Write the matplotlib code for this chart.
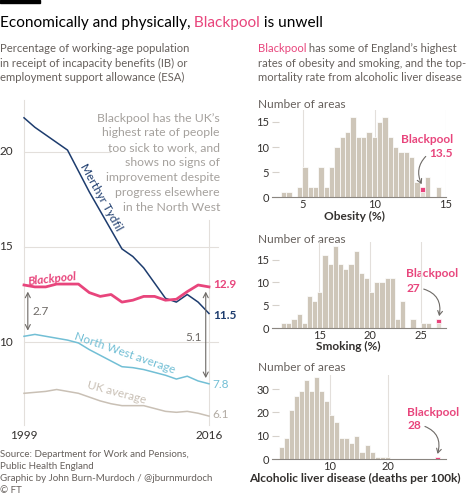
import numpy as np
import matplotlib
matplotlib.use("Agg")
import matplotlib.pyplot as plt
from matplotlib.patches import Rectangle

plt.rcParams['font.family'] = ['Lato', 'DejaVu Sans']

# ---- data: incapacity benefit / ESA share of working-age population (%)
years = np.arange(1999, 2017)
merthyr = [21.8, 21.3, 20.9, 20.5, 20.1, 19.0, 17.9, 16.9, 15.9, 14.9,
           14.5, 13.9, 13.1, 12.3, 12.1, 12.5, 12.1, 11.5]
blackpool = [13.0, 12.9, 12.9, 13.05, 13.05, 13.05, 12.6, 12.4, 12.5, 12.1,
             12.2, 12.4, 12.4, 12.2, 12.25, 12.65, 13.0, 12.9]
north_west = [10.3, 10.4, 10.3, 10.2, 10.1, 9.95, 9.6, 9.3, 9.0, 8.7,
              8.65, 8.55, 8.4, 8.25, 8.05, 8.2, 7.95, 7.8]
uk_avg = [7.3, 7.35, 7.4, 7.5, 7.4, 7.3, 7.1, 6.9, 6.75, 6.65,
          6.65, 6.65, 6.5, 6.35, 6.3, 6.35, 6.25, 6.1]

# ---- data: histograms of local areas
obesity_counts = [1, 1, 0, 2, 6, 2, 2, 6, 2, 6, 10, 12, 13, 16, 12, 12, 13, 12,
                  15, 16, 12, 10, 9, 9, 8, 3, 2, 4, 0, 2]
obesity_bins = (3.45, 0.373)  # first edge, bin width
smoking_counts = [1, 1, 2, 3, 1, 7, 6, 8, 16, 14, 18, 14, 13, 14, 17, 12, 11,
                  8, 10, 10, 11, 11, 2, 6, 0, 2, 0, 1, 1, 0, 2]
smoking_bins = (11.2, 0.512)
alcohol_counts = [5, 9, 21, 27, 29, 34, 29, 35, 29, 25, 19, 16, 9, 9, 7, 10, 3,
                  6, 3, 1, 1, 1, 0, 0, 0, 0, 0, 0, 0, 0, 0, 1]
alcohol_bins = (1.3, 0.86)
bp_obesity, bp_smoking, bp_alcohol = 13.5, 27, 28

PINK = '#e8457c'
NAVY = '#1d3c6e'
LBLUE = '#72bfd5'
UKGREY = '#c9c0b5'
BEIGE = '#cec6b9'
TXT = '#66605c'
DARK = '#33302e'
GRID = '#e3dfdb'
ANNO = '#a5a19d'

W, H = 474, 494
fig = plt.figure(figsize=(W / 100, H / 100), dpi=100, facecolor='white')


def px_axes(x0, y0, x1, y1):
    return fig.add_axes([x0 / W, 1 - y1 / H, (x1 - x0) / W, (y1 - y0) / H])


# overlay in pixel coordinates for free text
ov = fig.add_axes([0, 0, 1, 1])
ov.set_xlim(0, W)
ov.set_ylim(H, 0)
ov.axis('off')

ov.add_patch(Rectangle((0, 0), 40, 3, color='black'))


def colored_line(x, y, parts, size, weight='normal'):
    t = ov.text(x, y, parts[0][0], color=parts[0][1], fontsize=size,
                fontweight=weight, va='baseline', ha='left')
    for s, c in parts[1:]:
        t = ov.annotate(s, xy=(1, 0), xycoords=t, va='bottom', ha='left',
                        color=c, fontsize=size, fontweight=weight)


colored_line(0, 27, [('Economically and physically,', 'black'),
                     (' Blackpool', PINK), (' is unwell', 'black')], 11.1)

left_sub = ['Percentage of working-age population',
            'in receipt of incapacity benefits (IB) or',
            'employment support allowance (ESA)']
for i, s in enumerate(left_sub):
    ov.text(0, 52 + i * 14.7, s, color=TXT, fontsize=8.1, va='baseline')

colored_line(258, 52, [('Blackpool', PINK), (' has some of England\u2019s highest', TXT)], 8.1)
ov.text(258, 52 + 14.7, 'rates of obesity and smoking, and the top-', color=TXT,
        fontsize=8.1, va='baseline')
ov.text(258, 52 + 29.4, 'mortality rate from alcoholic liver disease', color=TXT,
        fontsize=8.1, va='baseline')

note = ['Blackpool has the UK\u2019s', 'highest rate of people', 'too sick to work, and',
        'shows no signs of', 'improvement despite', 'progress elsewhere',
        'in the North West']
for i, s in enumerate(note):
    ov.text(220, 118 + i * 14.9, s, color=ANNO, fontsize=8.8, ha='right', va='center')

footer = ['Source: Department for Work and Pensions,', 'Public Health England',
          'Graphic by John Burn-Murdoch / @jburnmurdoch', '\u00a9 FT']
for i, s in enumerate(footer):
    ov.text(0, 457 + i * 12, s, color=TXT, fontsize=7.0, va='baseline')

# ---- left line chart
ax = px_axes(24, 100, 209, 425)
y_lo, y_hi = 10 - 83 / 19, 20 + 52 / 19
ax.set_xlim(1999, 2016)
ax.set_ylim(y_lo, y_hi)
ax.axis('off')

for v, x_end in [(20, 2006.9), (15, 2016.8), (10, 2016.8)]:
    ax.plot([1999, x_end], [v, v], color=GRID, lw=0.8, clip_on=False, zorder=0)
    ax.text(1998.0, v, str(v), ha='right', va='center', color=DARK, fontsize=8.5)
ax.plot([1999, 1999], [y_lo, y_hi], color=GRID, lw=0.8, clip_on=False, zorder=0)
ax.plot([2016, 2016], [y_lo, 16.4], color=GRID, lw=0.8, clip_on=False, zorder=0)
ax.text(1999, y_lo - 0.55, '1999', ha='center', va='center', color=DARK, fontsize=8.5)
ax.text(2016, y_lo - 0.55, '2016', ha='center', va='center', color=DARK, fontsize=8.5)

ax.plot(years, uk_avg, color=UKGREY, lw=1.1, clip_on=False)
ax.plot(years, north_west, color=LBLUE, lw=1.1, clip_on=False)
ax.plot(years, merthyr, color=NAVY, lw=1.1, clip_on=False)
ax.plot(years, blackpool, color=PINK, lw=2.0, clip_on=False)

ax.text(2016.35, blackpool[-1] + 0.1, f'{blackpool[-1]:.1f}', color=PINK,
        fontsize=8.5, fontweight='bold', va='center')
ax.text(2016.35, merthyr[-1] - 0.13, f'{merthyr[-1]:.1f}', color=NAVY,
        fontsize=8.5, fontweight='bold', va='center')
ax.text(2016.35, north_west[-1] - 0.06, f'{north_west[-1]:.1f}', color=LBLUE,
        fontsize=8.5, va='center')
ax.text(2016.35, uk_avg[-1] + 0.06, f'{uk_avg[-1]:.1f}', color='#b3aca4',
        fontsize=8.5, va='center')

ax.text(2006.1, 17.63, 'Merthyr Tydfil', color=NAVY, fontsize=8.5, rotation=-61,
        ha='center', va='center')
ax.text(2008.3, 9.42, 'North West average', color=LBLUE, fontsize=8.5,
        rotation=-19, ha='center', va='center')
ax.text(2007.55, 7.36, 'UK average', color=UKGREY, fontsize=8.5, rotation=-15,
        ha='center', va='center')
ax.text(2001.6, 13.3, 'Blackpool', color=PINK, fontsize=8.5, rotation=6,
        style='italic', fontweight='bold', ha='center', va='center')

arrow = dict(arrowstyle='<->,head_length=0.35,head_width=0.18', color='#6e6a66',
             lw=0.8, shrinkA=0, shrinkB=0)
ax.annotate('', xy=(1999.35, north_west[0] + 0.3), xytext=(1999.35, blackpool[0] - 0.35),
            arrowprops=arrow, annotation_clip=False)
ax.text(1999.75, 11.6, f'{blackpool[0] - north_west[0]:.1f}', color='#6e6a66',
        fontsize=8.5, va='center')
ax.annotate('', xy=(2015.7, north_west[-1] + 0.3), xytext=(2015.7, blackpool[-1] - 0.25),
            arrowprops=arrow, annotation_clip=False)
ax.text(2015.3, 10.26, f'{blackpool[-1] - north_west[-1]:.1f}', color='#6e6a66',
        fontsize=8.5, va='center', ha='right')


# ---- histograms
def hist_panel(box, xlim, ymax, counts, bins, bp_value, yticks, xticks):
    h = px_axes(*box)
    start, width = bins
    edges = start + width * np.arange(len(counts))
    bp_i = int((bp_value - start) / width)
    colors = [BEIGE] * len(counts)
    heights = list(counts)
    heights[bp_i] = counts[bp_i] - 1
    colors[bp_i] = '#e4ddd4'
    h.bar(edges, heights, width, align='edge', color=colors, edgecolor='white',
          lw=0.5, zorder=2)
    h.bar(edges[bp_i], 1, width, bottom=counts[bp_i] - 1, align='edge', color=PINK,
          edgecolor='white', lw=0.5, zorder=3)
    h.set_xlim(*xlim)
    h.set_ylim(0, ymax)
    for s in ['top', 'right', 'left']:
        h.spines[s].set_visible(False)
    h.spines['bottom'].set_color('#8a8580')
    h.spines['bottom'].set_linewidth(0.8)
    h.set_xticks(xticks)
    h.set_yticks(yticks)
    h.tick_params(axis='x', length=0, pad=1.5, labelsize=8, labelcolor=DARK)
    h.tick_params(axis='y', length=5, direction='in', color='#d6d1cb', pad=2,
                  labelsize=8, labelcolor=DARK)
    h.grid(axis='x', color=GRID, lw=0.8, zorder=0)
    h.set_axisbelow(True)
    h.patch.set_alpha(0)
    return h, edges[bp_i] + width / 2, counts[bp_i]


arr2 = dict(arrowstyle='->,head_length=0.35,head_width=0.2', color='#6e6a66', lw=0.8,
            shrinkA=1, shrinkB=1)

h1, bx, by = hist_panel((272, 110, 446, 197), (2.83, 15.0), 17.4, obesity_counts,
                        obesity_bins, bp_obesity, [0, 5, 10, 15], [5, 10, 15])
ov.text(258, 104, 'Number of areas', color=TXT, fontsize=8.6, va='center')
ov.text(355, 216, 'Obesity (%)', color=DARK, fontsize=8.6, fontweight='bold',
        ha='center', va='center')
ov.text(453, 139, 'Blackpool', color=PINK, fontsize=8.6, fontweight='bold',
        ha='right', va='center')
h1.annotate(f'{bp_obesity}', xy=(bx, by + 0.3), xytext=(453, 153),
            textcoords=ov.transData, color=PINK, fontsize=8.6, fontweight='bold',
            ha='right', va='center', annotation_clip=False,
            arrowprops=dict(arr2, relpos=(0, 0.5), connectionstyle='arc3,rad=0.4'))

h2, bx, by = hist_panel((272, 242, 446, 328), (10.3, 27.52), 18.9, smoking_counts,
                        smoking_bins, bp_smoking, [0, 5, 10, 15], [15, 20, 25])
ov.text(258, 239, 'Number of areas', color=TXT, fontsize=8.6, va='center')
ov.text(348, 346, 'Smoking (%)', color=DARK, fontsize=8.6, fontweight='bold',
        ha='center', va='center')
ov.text(406, 273, 'Blackpool', color=PINK, fontsize=8.6, fontweight='bold',
        ha='left', va='center')
h2.annotate(f'{bp_smoking}', xy=(bx, by + 0.3), xytext=(406, 288),
            textcoords=ov.transData, color=PINK, fontsize=8.6, fontweight='bold',
            ha='left', va='center', annotation_clip=False,
            arrowprops=dict(arr2, relpos=(1, 0.5), connectionstyle='arc3,rad=-0.5'))

h3, bx, by = hist_panel((272, 375, 446, 459), (0.05, 29.9), 36.05, alcohol_counts,
                        alcohol_bins, bp_alcohol, [0, 10, 20, 30], [10, 20])
ov.text(258, 367, 'Number of areas', color=TXT, fontsize=8.6, va='center')
ov.text(355, 478, 'Alcoholic liver disease (deaths per 100k)', color=DARK,
        fontsize=8.6, fontweight='bold', ha='center', va='center')
ov.text(407, 412, 'Blackpool', color=PINK, fontsize=8.6, fontweight='bold',
        ha='left', va='center')
h3.annotate(f'{bp_alcohol}', xy=(bx, by + 0.6), xytext=(407, 425),
            textcoords=ov.transData, color=PINK, fontsize=8.6, fontweight='bold',
            ha='left', va='center', annotation_clip=False,
            arrowprops=dict(arr2, relpos=(1, 0.5), connectionstyle='arc3,rad=-0.5'))

fig.savefig('out.png', dpi=100, facecolor='white')
